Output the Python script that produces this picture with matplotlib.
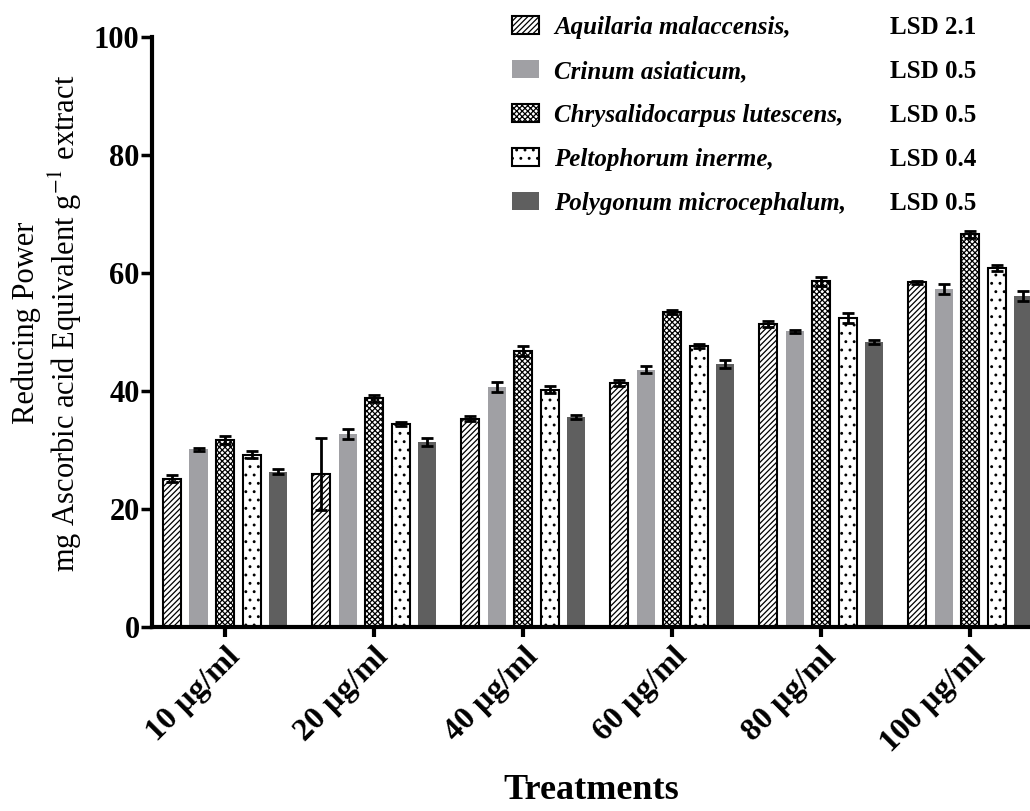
import matplotlib
matplotlib.use('Agg')
import matplotlib.pyplot as plt
import numpy as np

plt.rcParams['font.family'] = 'Liberation Serif'
plt.rcParams['mathtext.fontset'] = 'stix'
plt.rcParams['hatch.linewidth'] = 0.9

treatments = ['10 µg/ml', '20 µg/ml', '40 µg/ml', '60 µg/ml', '80 µg/ml', '100 µg/ml']
species = ['Aquilaria malaccensis,', 'Crinum asiaticum,', 'Chrysalidocarpus lutescens,',
           'Peltophorum inerme,', 'Polygonum microcephalum,']
lsd = ['LSD 2.1', 'LSD 0.5', 'LSD 0.5', 'LSD 0.4', 'LSD 0.5']

aquilaria = [25.1, 25.9, 35.3, 41.3, 51.3, 58.4]
crinum = [30.1, 32.7, 40.7, 43.6, 50.1, 57.3]
chrysalido = [31.7, 38.8, 46.8, 53.4, 58.6, 66.6]
peltophorum = [29.2, 34.4, 40.2, 47.6, 52.4, 60.9]
polygonum = [26.3, 31.4, 35.6, 44.6, 48.3, 56.1]

err_aquilaria = [0.6, 6.1, 0.4, 0.5, 0.5, 0.3]
err_crinum = [0.3, 0.8, 0.9, 0.6, 0.2, 0.8]
err_chrysalido = [0.7, 0.6, 0.9, 0.3, 0.8, 0.6]
err_peltophorum = [0.6, 0.4, 0.6, 0.3, 0.8, 0.5]
err_polygonum = [0.4, 0.7, 0.3, 0.7, 0.3, 0.8]

series = [aquilaria, crinum, chrysalido, peltophorum, polygonum]
errors = [err_aquilaria, err_crinum, err_chrysalido, err_peltophorum, err_polygonum]
styles = [
    dict(facecolor='white', edgecolor='black', hatch='//////', linewidth=1.5),
    dict(facecolor='#a0a0a4', edgecolor='#a0a0a4', linewidth=0),
    dict(facecolor='white', edgecolor='black', hatch='xxxxxx', linewidth=1.5),
    dict(facecolor='white', edgecolor='black', hatch='..', linewidth=1.5),
    dict(facecolor='#5f5f5f', edgecolor='#5f5f5f', linewidth=0),
]

fig = plt.figure(figsize=(10.3, 8.11), dpi=100)
ax = fig.add_axes([0.1476, 0.2269, 0.8524, 0.7275])

x = np.arange(len(treatments))
step = 0.178
width = 0.122
handles = []
for i, (vals, errs, st) in enumerate(zip(series, errors, styles)):
    pos = x + (i - 2) * step
    b = ax.bar(pos, vals, width, **st)
    ax.errorbar(pos, vals, yerr=errs, fmt='none', ecolor='black',
                elinewidth=2, capsize=4, capthick=2)
    handles.append(b)

ax.set_xlim(-0.49, 5.40)
ax.set_ylim(0, 100)
ax.set_yticks([0, 20, 40, 60, 80, 100])
ax.set_xticks(x)
ax.set_xticklabels(treatments, rotation=45, ha='right', rotation_mode='anchor',
                   fontsize=23, fontweight='bold')
for lab in ax.get_yticklabels():
    lab.set_fontsize(22)
    lab.set_fontweight('bold')
ax.tick_params(axis='y', direction='out', length=8, width=2.5, pad=1)
ax.tick_params(axis='x', direction='out', length=7, width=3, pad=4)
for s in ['top', 'right']:
    ax.spines[s].set_visible(False)
for s in ['left', 'bottom']:
    ax.spines[s].set_linewidth(3)

ax.set_ylabel('Reducing Power\nmg Ascorbic acid Equivalent g$^{-1}$ extract',
              fontsize=22, linespacing=1.2)
ax.yaxis.set_label_coords(-0.078, 0.515)
ax.set_xlabel('Treatments', fontsize=26, fontweight='bold')
ax.xaxis.set_label_coords(0.5, -0.25)

leg = fig.legend(handles, species, loc='upper left', bbox_to_anchor=(0.475, 1.008),
                 frameon=False, handlelength=1.1, handleheight=0.75,
                 labelspacing=0.84, handletextpad=0.6,
                 prop=dict(family='Liberation Serif', style='italic', weight='bold', size=18))

fig.canvas.draw()
renderer = fig.canvas.get_renderer()
inv = fig.transFigure.inverted()
for t, s in zip(leg.get_texts(), lsd):
    bb = t.get_window_extent(renderer)
    y = inv.transform((0, (bb.y0 + bb.y1) / 2))[1]
    fig.text(0.864, y, s, ha='left', va='center', fontsize=18, fontweight='bold')

fig.savefig('out.png', dpi=100)
